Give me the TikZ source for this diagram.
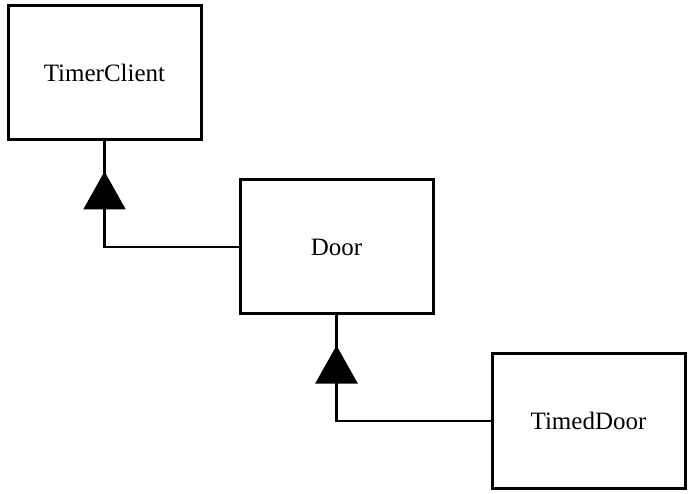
\documentclass[tikz,border=0pt]{standalone}
\usepackage{fontspec}
\setmainfont{Liberation Serif}
\usetikzlibrary{arrows.meta, decorations.markings}

\begin{document}
\begin{tikzpicture}[x=1pt, y=-1pt,
  classbox/.style={draw, line width=3pt, minimum width=193pt, minimum height=134pt,
    inner sep=0pt, font=\fontsize{25}{30}\selectfont},
  inherit/.style={line width=2.5pt, postaction={decorate}, decoration={markings,
    mark=at position -30pt with {\arrow{Triangle[length=38pt, width=42pt]}}}}]
\useasboundingbox (0,0) rectangle (691,494);
\node[classbox] (client) at (104.5, 73) {TimerClient};
\node[classbox] (door) at (336.5, 247) {Door};
\node[classbox] (timed) at (588.5, 421) {TimedDoor};
\draw[inherit] (door.west) -| (client.south);
\draw[inherit] (timed.west) -| (door.south);
\end{tikzpicture}
\end{document}
